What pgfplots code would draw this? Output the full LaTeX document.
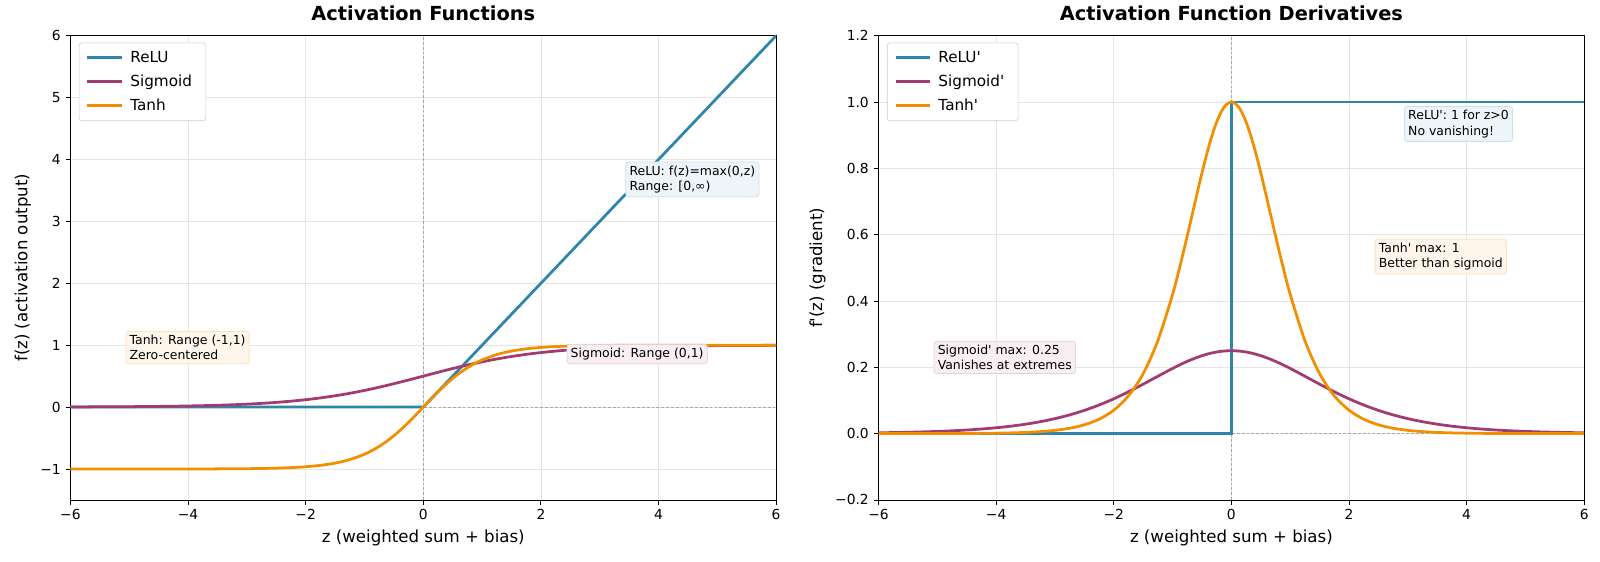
\documentclass[border=0pt]{standalone}
\usepackage{fontspec}
\setmainfont{DejaVu Sans}[Ligatures=TeXOff]
\usepackage{pgfplots}
\pgfplotsset{compat=1.18}
\usepackage{pgfplotstable}

\definecolor{relu}{HTML}{2E86AB}
\definecolor{sigm}{HTML}{A23B72}
\definecolor{tanhc}{HTML}{F18F01}

% z, sigmoid, tanh, sigmoid', tanh'
\pgfplotstableread{
z       sig       tanh       dsig      dtanh
-6      0.002473  -0.999988  0.002467  0.000025
-5.75   0.003173  -0.999980  0.003163  0.000040
-5.5    0.004070  -0.999967  0.004053  0.000067
-5.25   0.005220  -0.999945  0.005193  0.000110
-5      0.006693  -0.999909  0.006648  0.000182
-4.75   0.008578  -0.999850  0.008504  0.000300
-4.5    0.010987  -0.999753  0.010866  0.000494
-4.25   0.014063  -0.999593  0.013865  0.000814
-4      0.017986  -0.999329  0.017663  0.001341
-3.75   0.022978  -0.998894  0.022450  0.002211
-3.5    0.029312  -0.998178  0.028453  0.003641
-3.25   0.037327  -0.996998  0.035934  0.005995
-3      0.047426  -0.995055  0.045177  0.009866
-2.75   0.060087  -0.991860  0.056477  0.016213
-2.5    0.075858  -0.986614  0.070104  0.026592
-2.25   0.095349  -0.978026  0.086258  0.043465
-2      0.119203  -0.964028  0.104994  0.070651
-1.75   0.148047  -0.941376  0.126128  0.113811
-1.5    0.182426  -0.905148  0.149146  0.180707
-1.25   0.222700  -0.848284  0.173105  0.280414
-1      0.268941  -0.761594  0.196612  0.419974
-0.875  0.294215  -0.703906  0.207653  0.504516
-0.75   0.320821  -0.635149  0.217895  0.596586
-0.625  0.348645  -0.554600  0.227092  0.692419
-0.5    0.377541  -0.462117  0.235004  0.786448
-0.375  0.407333  -0.358357  0.241413  0.871580
-0.25   0.437823  -0.244919  0.246134  0.940015
-0.125  0.468791  -0.124353  0.249025  0.984536
0       0.500000   0.000000  0.250000  1.000000
0.125   0.531209   0.124353  0.249025  0.984536
0.25    0.562177   0.244919  0.246134  0.940015
0.375   0.592667   0.358357  0.241413  0.871580
0.5     0.622459   0.462117  0.235004  0.786448
0.625   0.651355   0.554600  0.227092  0.692419
0.75    0.679179   0.635149  0.217895  0.596586
0.875   0.705785   0.703906  0.207653  0.504516
1       0.731059   0.761594  0.196612  0.419974
1.25    0.777300   0.848284  0.173105  0.280414
1.5     0.817574   0.905148  0.149146  0.180707
1.75    0.851953   0.941376  0.126128  0.113811
2       0.880797   0.964028  0.104994  0.070651
2.25    0.904651   0.978026  0.086258  0.043465
2.5     0.924142   0.986614  0.070104  0.026592
2.75    0.939913   0.991860  0.056477  0.016213
3       0.952574   0.995055  0.045177  0.009866
3.25    0.962673   0.996998  0.035934  0.005995
3.5     0.970688   0.998178  0.028453  0.003641
3.75    0.977022   0.998894  0.022450  0.002211
4       0.982014   0.999329  0.017663  0.001341
4.25    0.985937   0.999593  0.013865  0.000814
4.5     0.989013   0.999753  0.010866  0.000494
4.75    0.991422   0.999850  0.008504  0.000300
5       0.993307   0.999909  0.006648  0.000182
5.25    0.994780   0.999945  0.005193  0.000110
5.5     0.995930   0.999967  0.004053  0.000067
5.75    0.996827   0.999980  0.003163  0.000040
6       0.997527   0.999988  0.002467  0.000025
}\acttable

\pgfplotsset{
  actaxis/.style={
    scale only axis, width=510pt, height=335.5pt,
    xmin=-6, xmax=6,
    xtick={-6,-4,-2,0,2,4,6},
    xticklabels={−6,−4,−2,0,2,4,6},
    tick align=outside, tick pos=left, major tick length=3.5pt,
    tick style={black, line width=0.6pt},
    axis line style={line width=0.6pt},
    grid=major, grid style={black!10, line width=0.5pt},
    ticklabel style={font=\fontsize{10}{12}\selectfont},
    label style={font=\fontsize{12}{14}\selectfont},
    title style={font=\fontsize{14}{16}\selectfont\bfseries, yshift=1pt},
    xlabel={z (weighted sum + bias)},
    legend cell align=left,
    legend style={at={(0.012,0.985)}, anchor=north west,
      draw=black!20, rounded corners=2pt, fill=white,
      font=\fontsize{11}{13}\selectfont, row sep=3.5pt,
      inner xsep=5pt, inner ysep=4pt,
      nodes={inner xsep=5pt}},
    legend image code/.code={\draw[##1] (0pt,0pt) -- (25pt,0pt);},
    every axis plot/.append style={line width=2pt},
  },
  zeroline/.style={gray!70, dashed, dash pattern=on 2pt off 1.5pt,
    line width=0.5pt, forget plot},
}
\tikzset{
  annot/.style={anchor=south west, align=left, inner sep=2.7pt,
    rounded corners=2pt, line width=0.6pt, xshift=-2.7pt, yshift=-4.8pt,
    font=\fontsize{9}{11}\selectfont},
}

\begin{document}
\begin{tikzpicture}
\useasboundingbox (-50.9pt,-44.8pt) rectangle (1105.4pt,361.3pt);

% Left panel: the activation functions
\begin{axis}[actaxis, at={(0pt,0pt)}, anchor=south west,
  title={Activation Functions},
  ymin=-1.5, ymax=6,
  ytick={-1,0,1,2,3,4,5,6},
  yticklabels={−1,0,1,2,3,4,5,6},
  ylabel={f(z) (activation output)}]
  \addplot[zeroline] coordinates {(0,-1.5) (0,6)};
  \addplot[zeroline] coordinates {(-6,0) (6,0)};
  \addplot[relu] coordinates {(-6,0) (0,0) (6,6)};
  \addlegendentry{ReLU}
  \addplot[sigm, smooth] table[x=z, y=sig] {\acttable};
  \addlegendentry{Sigmoid}
  \addplot[tanhc, smooth] table[x=z, y=tanh] {\acttable};
  \addlegendentry{Tanh}
  \node[annot, fill=relu!8!white, draw=relu!25!white] at (axis cs:3.5,3.5)
    {ReLU: f(z)=max(0,z)\\Range: [0,∞)};
  \node[annot, fill=sigm!8!white, draw=sigm!25!white] at (axis cs:2.5,0.8)
    {Sigmoid: Range (0,1)};
  \node[annot, fill=tanhc!8!white, draw=tanhc!25!white] at (axis cs:-5,0.8)
    {Tanh: Range (-1,1)\\Zero-centered};
\end{axis}

% Right panel: their derivatives
\begin{axis}[actaxis, at={(584pt,0pt)}, anchor=south west,
  title={Activation Function Derivatives},
  ymin=-0.2, ymax=1.2,
  ytick={-0.2,0,0.2,0.4,0.6,0.8,1.0,1.2},
  yticklabels={−0.2,0.0,0.2,0.4,0.6,0.8,1.0,1.2},
  ylabel={f'(z) (gradient)}]
  \addplot[zeroline] coordinates {(0,-0.2) (0,1.2)};
  \addplot[zeroline] coordinates {(-6,0) (6,0)};
  \addplot[relu] coordinates {(-6,0) (0,0) (0,1) (6,1)};
  \addlegendentry{ReLU'}
  \addplot[sigm, smooth] table[x=z, y=dsig] {\acttable};
  \addlegendentry{Sigmoid'}
  \addplot[tanhc, smooth] table[x=z, y=dtanh] {\acttable};
  \addlegendentry{Tanh'}
  \node[annot, fill=relu!8!white, draw=relu!25!white] at (axis cs:3,0.9)
    {ReLU': 1 for z>0\\No vanishing!};
  \node[annot, fill=tanhc!8!white, draw=tanhc!25!white] at (axis cs:2.5,0.5)
    {Tanh' max: 1\\Better than sigmoid};
  \node[annot, fill=sigm!8!white, draw=sigm!25!white] at (axis cs:-5,0.2)
    {Sigmoid' max: 0.25\\Vanishes at extremes};
\end{axis}
\end{tikzpicture}
\end{document}
